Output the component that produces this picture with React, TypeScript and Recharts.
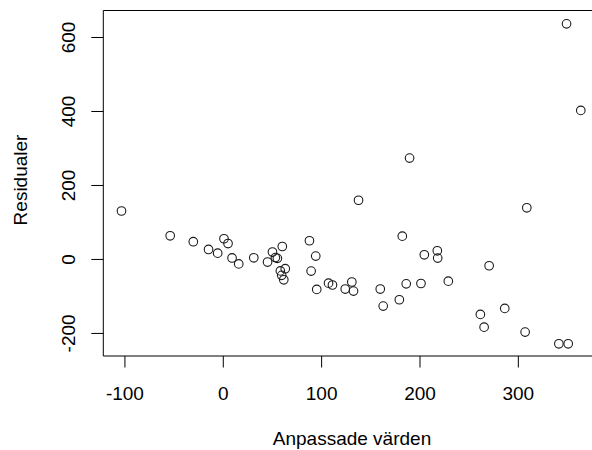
import { ReferenceArea, Scatter, ScatterChart, XAxis, YAxis } from "recharts"

const fitted = [
  -103.5, -54, -30.5, -15, -5.7, 0.7, 4.8, 8.9, 15.7, 31, 45, 50, 53, 55, 60, 63, 58, 59.4, 61.5, 87.6, 94,
  89.3, 95, 107, 111, 124, 130.7, 132.4, 137.5, 159.6, 162.6, 179, 182, 186, 189.4, 201, 204.4, 217.6, 218,
  228.8, 261.4, 265.2, 270.3, 286.2, 306.9, 308.6, 341.2, 349, 350.7, 363.5,
]

const residuals = [
  131, 64, 48, 27, 17, 56, 43, 4, -12, 4.5, -7, 20, 5, 3, 35, -25, -31, -43, -55, 50.5, 9, -31.5, -81, -64,
  -69, -80, -61, -85.6, 160, -80, -126, -109, 63, -66, 274, -65, 12.6, 23.4, 3.6, -58.6, -148.6, -183, -17,
  -132.4, -196.4, 139.7, -228, 637, -228, 403,
]

const xTicks = [-100, 0, 100, 200, 300]
const yTicks = [-200, 0, 200, 400, 600]

const data = fitted.map((x, i) => ({ x, y: residuals[i] }))

const FONT = "'Liberation Sans', Arial, Helvetica, sans-serif"

function YTick(props: any) {
  const { y, payload } = props
  return (
    <text
      x={75}
      y={y}
      transform={`rotate(-90, 75, ${y})`}
      textAnchor="middle"
      fontSize={19}
      fontFamily={FONT}
      fill="#000"
    >
      {payload.value}
    </text>
  )
}

function XTick(props: any) {
  const { x, payload } = props
  return (
    <text x={x} y={400} textAnchor="middle" fontSize={19} fontFamily={FONT} fill="#000">
      {payload.value}
    </text>
  )
}

function Ring(props: any) {
  const { cx, cy } = props
  return <circle cx={cx} cy={cy} r={4.3} fill="none" stroke="#1a1a1a" strokeWidth={1.1} />
}

export default function App() {
  // the plot box runs a few pixels past the right edge, as in the original
  return (
    <div style={{ position: "absolute", left: 0, top: 0, width: 592, height: 450, overflow: "hidden", background: "#fff" }}>
      <ScatterChart width={598} height={450} margin={{ top: 10.5, right: 0, bottom: 0, left: 0 }}>
        <XAxis
          type="number"
          dataKey="x"
          domain={[-122, 381]}
          ticks={xTicks}
          allowDataOverflow
          axisLine={false}
          tickSize={11.5}
          tickLine={{ stroke: "#000" }}
          tick={<XTick />}
          height={94}
        />
        <YAxis
          type="number"
          dataKey="y"
          domain={[-261, 673]}
          ticks={yTicks}
          allowDataOverflow
          axisLine={false}
          tickSize={12}
          tickLine={{ stroke: "#000" }}
          tick={<YTick />}
          width={103.3}
        />
        <ReferenceArea x1={-122} x2={381} y1={-261} y2={673} fill="none" stroke="#000" strokeWidth={1} />
        <Scatter data={data} shape={<Ring />} isAnimationActive={false} />
        <text x={26.7} y={180} transform="rotate(-90, 26.7, 180)" textAnchor="middle" fontSize={19} fontFamily={FONT} fill="#000">
          Residualer
        </text>
        <text x={352} y={445} textAnchor="middle" fontSize={19} fontFamily={FONT} fill="#000">
          Anpassade värden
        </text>
      </ScatterChart>
    </div>
  )
}
